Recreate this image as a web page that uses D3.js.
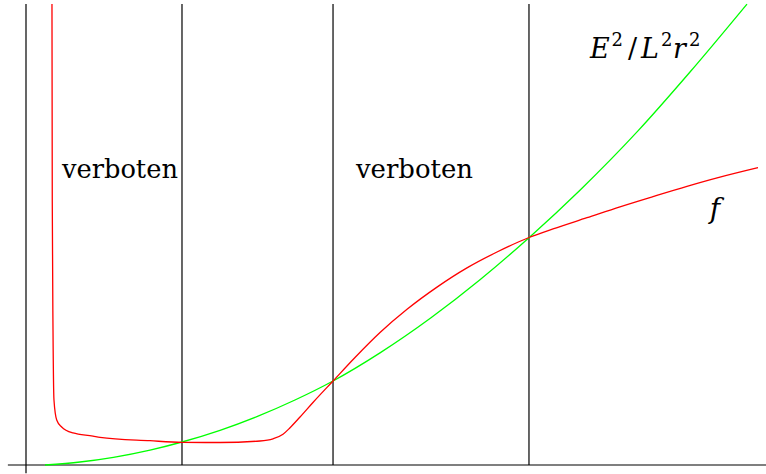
<!DOCTYPE html>
<html>
<head>
<meta charset="utf-8">
<script src="https://cdn.jsdelivr.net/npm/d3@7"></script>
<style>
  html, body { margin: 0; padding: 0; background: #fff; }
  svg { display: block; }
  text { font-family: "DejaVu Serif", "Liberation Serif", serif; fill: #000; }
</style>
</head>
<body>
<svg id="chart" width="766" height="474"></svg>
<script>
// values (r along x, potential along y, arbitrary units 0..10)
const greenX = [0.257, 0.73, 1.182, 1.676, 2.108, 2.622, 3.128, 3.635, 4.149, 4.784, 5.473, 6.135, 6.797, 7.486, 8.27, 8.973, 9.743];
const greenY = [0, 0.065, 0.167, 0.324, 0.5, 0.754, 1.057, 1.413, 1.826, 2.437, 3.2, 4.026, 4.941, 5.974, 7.263, 8.543, 10.02];

const redX = [0.351, 0.355, 0.365, 0.378, 0.415, 0.482, 0.635, 0.905, 1.0, 1.676, 2.108, 2.622, 3.162, 3.338, 3.473, 3.568, 3.703, 3.878, 4.149, 4.446, 4.784, 5.149, 5.554, 5.959, 6.365, 6.797, 7.122, 7.581, 8.027, 8.473, 8.932, 9.378, 9.892];
const redY = [10.02, 5.761, 2.935, 1.413, 0.978, 0.826, 0.696, 0.63, 0.602, 0.528, 0.493, 0.489, 0.522, 0.57, 0.67, 0.81, 1.043, 1.359, 1.826, 2.337, 2.88, 3.385, 3.867, 4.285, 4.63, 4.946, 5.133, 5.376, 5.613, 5.835, 6.057, 6.257, 6.463];

// turning points (vertical lines)
const turnX = [2.108, 4.149, 6.797];

const labels = [
    {text: "verboten", x: 0.486, y: 6.25, w: 116},
    {text: "verboten", x: 4.459, y: 6.23, w: 117}
];

const svg = d3.select('#chart');

const x = d3.scaleLinear().domain([0, 10]).range([26, 766]);
const y = d3.scaleLinear().domain([0, 10]).range([465, 5]);

// axes
svg.append('line')
    .attr('x1', x(-0.245)).attr('x2', x(10))
    .attr('y1', y(0)).attr('y2', y(0))
    .attr('stroke', '#000').attr('stroke-width', 1.2);
svg.append('line')
    .attr('x1', x(0)).attr('x2', x(0))
    .attr('y1', y(-0.18)).attr('y2', y(10.02))
    .attr('stroke', '#000').attr('stroke-width', 1.2);

svg.selectAll('line.turn')
    .data(turnX)
    .enter()
    .append('line')
    .classed('turn', true)
    .attr('x1', d => x(d)).attr('x2', d => x(d))
    .attr('y1', y(0)).attr('y2', y(10.02))
    .attr('stroke', '#000').attr('stroke-width', 1.2);

const line = d3.line()
    .x(d => x(d[0]))
    .y(d => y(d[1]))
    .curve(d3.curveMonotoneX);

svg.append('path')
    .datum(d3.zip(greenX, greenY))
    .attr('d', line)
    .attr('fill', 'none')
    .attr('stroke', '#00ff00')
    .attr('stroke-width', 1.3);

svg.append('path')
    .datum(d3.zip(redX, redY))
    .attr('d', line)
    .attr('fill', 'none')
    .attr('stroke', '#ff0000')
    .attr('stroke-width', 1.3);

svg.selectAll('text.zone')
    .data(labels)
    .enter()
    .append('text')
    .classed('zone', true)
    .attr('x', d => x(d.x))
    .attr('y', d => y(d.y))
    .attr('textLength', d => d.w)
    .attr('lengthAdjust', 'spacingAndGlyphs')
    .style('font-size', '26px')
    .text(d => d.text);

// f label
svg.append('text')
    .attr('x', x(9.24))
    .attr('y', y(5.37))
    .style('font-size', '28px')
    .style('font-style', 'italic')
    .text('f');

// E^2/L^2r^2 label
const eq = [
    {t: 'E', dx: 0, it: true, sup: false},
    {t: '2', dx: 21.5, it: false, sup: true},
    {t: '/', dx: 38, it: false, sup: false},
    {t: 'L', dx: 51, it: true, sup: false},
    {t: '2', dx: 71, it: false, sup: true},
    {t: 'r', dx: 83, it: true, sup: false},
    {t: '2', dx: 99, it: false, sup: true}
];
const eqG = svg.append('g')
    .attr('transform', `translate(${x(7.62)}, ${y(8.84)})`);
eqG.selectAll('text')
    .data(eq)
    .enter()
    .append('text')
    .attr('x', d => d.dx)
    .attr('y', d => d.sup ? -12.5 : 0)
    .style('font-size', d => d.sup ? '18px' : '27px')
    .style('font-style', d => d.it ? 'italic' : 'normal')
    .text(d => d.t);
</script>
</body>
</html>
